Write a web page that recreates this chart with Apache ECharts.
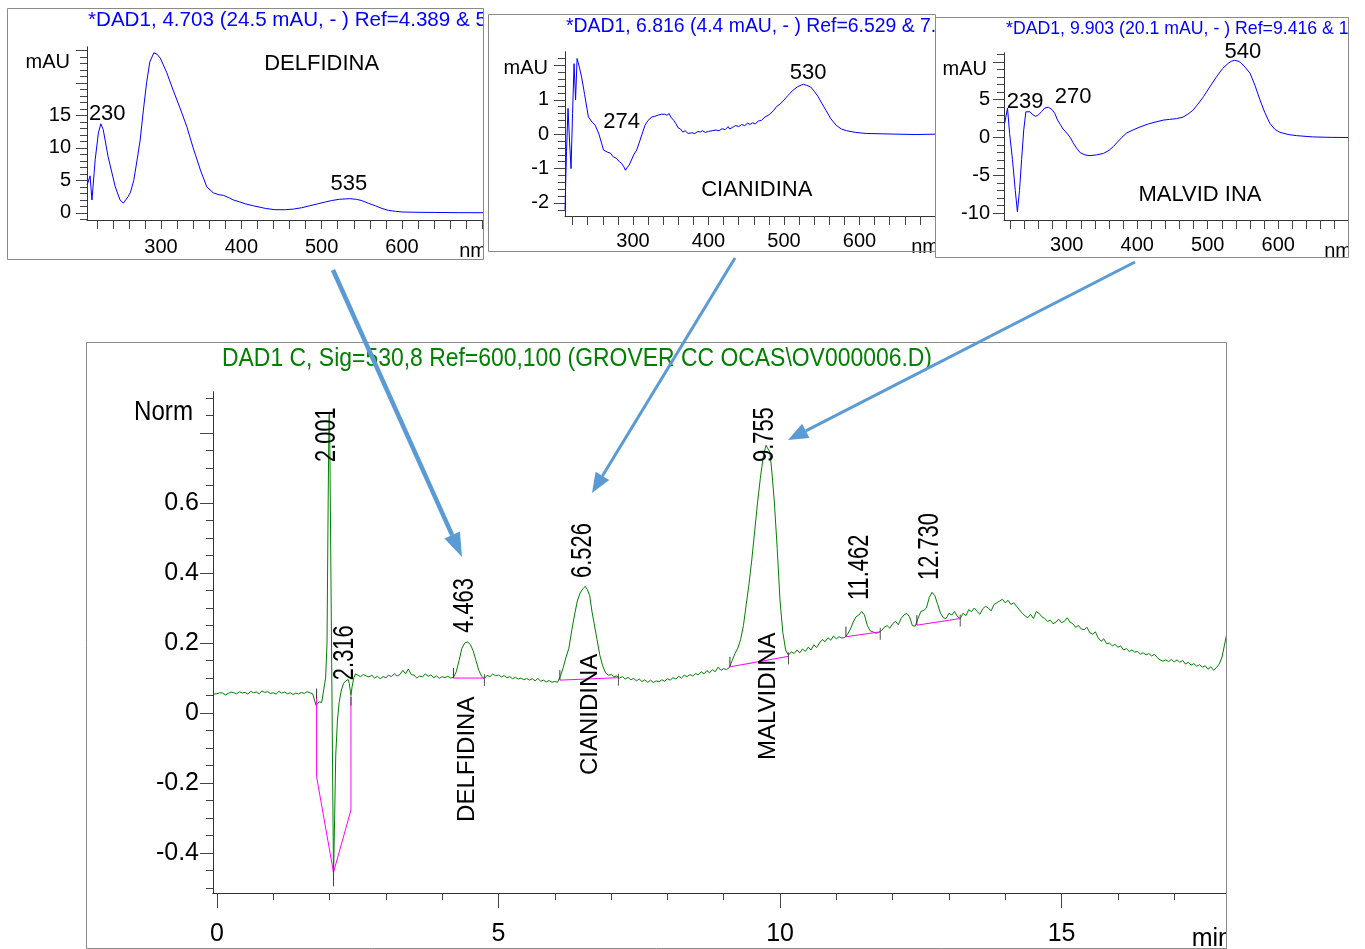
<!DOCTYPE html>
<html><head><meta charset="utf-8">
<script src="https://cdn.jsdelivr.net/npm/echarts@6/dist/echarts.min.js"></script>
<style>html,body{margin:0;padding:0;background:#fff}#c{width:1365px;height:949px}</style>
</head><body><div id="c"></div>
<script>
// ---------------- DATA ----------------
const mainTitle = 'DAD1 C, Sig=530,8 Ref=600,100 (GROVER CC OCAS\\OV000006.D)';

// chromatogram: [time (min), signal (Norm)]
const chromatogram = [
[-0.07,0.054],[0.0,0.055],[0.05,0.058],[0.1,0.057],[0.15,0.052],[0.2,0.056],[0.25,0.060],[0.3,0.058],[0.35,0.055],[0.4,0.061],
[0.45,0.057],[0.5,0.059],[0.55,0.054],[0.6,0.062],[0.65,0.058],[0.7,0.060],[0.75,0.055],[0.8,0.063],[0.85,0.059],[0.9,0.061],
[0.95,0.056],[1.0,0.058],[1.05,0.054],[1.1,0.062],[1.15,0.057],[1.2,0.060],[1.25,0.055],[1.3,0.058],[1.35,0.053],[1.4,0.057],
[1.45,0.055],[1.5,0.059],[1.55,0.056],[1.6,0.061],[1.65,0.058],[1.7,0.055],[1.73,0.050],[1.76,0.022],[1.78,0.018],[1.82,0.032],
[1.86,0.030],[1.89,0.060],[1.93,0.100],[1.955,0.20],[1.975,0.60],[1.99,0.85],[2.0,0.86],[2.07,-0.47],[2.09,-0.30],[2.11,-0.12],
[2.14,-0.02],[2.17,0.03],[2.21,0.066],[2.25,0.085],[2.29,0.092],[2.33,0.096],[2.35,0.085],[2.37,0.062],[2.38,0.050],[2.40,0.075],
[2.43,0.100],[2.46,0.112],[2.5,0.108],[2.55,0.104],[2.6,0.110],[2.65,0.106],[2.7,0.103],[2.75,0.108],[2.8,0.100],[2.85,0.105],
[2.9,0.098],[2.95,0.104],[3.0,0.101],[3.05,0.108],[3.1,0.104],[3.15,0.112],[3.2,0.106],[3.25,0.110],[3.3,0.122],[3.35,0.112],
[3.4,0.126],[3.45,0.110],[3.5,0.108],[3.55,0.100],[3.6,0.106],[3.65,0.103],[3.7,0.112],[3.75,0.105],[3.8,0.109],[3.85,0.101],
[3.9,0.106],[3.95,0.099],[4.0,0.104],[4.05,0.101],[4.1,0.105],[4.15,0.100],[4.2,0.102],[4.25,0.118],[4.3,0.150],[4.35,0.185],
[4.4,0.200],[4.45,0.203],[4.5,0.196],[4.55,0.178],[4.6,0.150],[4.65,0.122],[4.7,0.105],[4.75,0.098],[4.8,0.108],[4.85,0.104],
[4.9,0.112],[4.95,0.106],[5.0,0.109],[5.05,0.103],[5.1,0.107],[5.15,0.101],[5.2,0.104],[5.25,0.098],[5.3,0.102],[5.35,0.097],
[5.4,0.100],[5.45,0.095],[5.5,0.099],[5.55,0.094],[5.6,0.098],[5.65,0.092],[5.7,0.099],[5.75,0.091],[5.8,0.094],[5.85,0.089],
[5.9,0.093],[5.95,0.088],[6.0,0.090],[6.05,0.088],[6.1,0.105],[6.15,0.130],[6.2,0.160],[6.25,0.185],[6.3,0.235],[6.35,0.280],
[6.4,0.320],[6.45,0.343],[6.5,0.355],[6.54,0.362],[6.58,0.352],[6.62,0.335],[6.66,0.290],[6.7,0.255],[6.75,0.210],[6.8,0.165],
[6.85,0.135],[6.9,0.115],[6.95,0.108],[7.0,0.110],[7.05,0.104],[7.1,0.106],[7.15,0.100],[7.2,0.104],[7.25,0.097],[7.3,0.102],
[7.35,0.095],[7.4,0.099],[7.45,0.092],[7.5,0.097],[7.55,0.090],[7.6,0.095],[7.65,0.088],[7.7,0.094],[7.75,0.087],[7.8,0.092],
[7.85,0.089],[7.9,0.095],[7.95,0.091],[8.0,0.098],[8.05,0.094],[8.1,0.101],[8.15,0.097],[8.2,0.105],[8.25,0.100],[8.3,0.108],
[8.35,0.104],[8.4,0.110],[8.45,0.106],[8.5,0.113],[8.55,0.109],[8.6,0.118],[8.65,0.112],[8.7,0.121],[8.75,0.115],[8.8,0.124],
[8.85,0.118],[8.9,0.131],[8.95,0.122],[9.0,0.127],[9.05,0.124],[9.1,0.130],[9.15,0.150],[9.2,0.170],[9.25,0.185],[9.3,0.210],
[9.35,0.250],[9.4,0.310],[9.45,0.370],[9.5,0.440],[9.55,0.520],[9.6,0.600],[9.65,0.670],[9.7,0.730],[9.75,0.765],[9.78,0.768],
[9.82,0.745],[9.86,0.680],[9.9,0.600],[9.95,0.470],[10.0,0.320],[10.05,0.230],[10.1,0.180],[10.15,0.165],[10.2,0.175],[10.25,0.170],
[10.3,0.180],[10.35,0.172],[10.4,0.183],[10.45,0.176],[10.5,0.188],[10.55,0.180],[10.6,0.195],[10.65,0.187],[10.7,0.200],[10.75,0.210],
[10.8,0.204],[10.85,0.215],[10.9,0.208],[10.95,0.220],[11.0,0.212],[11.05,0.218],[11.1,0.214],[11.15,0.216],[11.2,0.225],[11.25,0.240],
[11.3,0.260],[11.35,0.275],[11.4,0.280],[11.45,0.290],[11.5,0.280],[11.55,0.250],[11.6,0.235],[11.65,0.232],[11.7,0.228],[11.75,0.230],
[11.8,0.235],[11.85,0.245],[11.9,0.250],[11.95,0.242],[12.0,0.255],[12.05,0.262],[12.1,0.252],[12.15,0.270],[12.2,0.280],[12.25,0.285],
[12.3,0.275],[12.35,0.250],[12.4,0.248],[12.45,0.270],[12.5,0.290],[12.55,0.293],[12.6,0.300],[12.65,0.330],[12.7,0.345],[12.75,0.335],
[12.8,0.310],[12.85,0.285],[12.9,0.272],[12.95,0.270],[13.0,0.285],[13.05,0.280],[13.1,0.290],[13.15,0.276],[13.2,0.270],[13.25,0.285],
[13.3,0.278],[13.35,0.295],[13.4,0.290],[13.45,0.300],[13.5,0.290],[13.55,0.282],[13.6,0.298],[13.65,0.305],[13.7,0.300],[13.75,0.292],
[13.8,0.310],[13.85,0.315],[13.9,0.320],[13.95,0.325],[14.0,0.315],[14.05,0.322],[14.1,0.310],[14.15,0.315],[14.2,0.305],[14.25,0.295],
[14.3,0.285],[14.35,0.278],[14.4,0.272],[14.45,0.282],[14.5,0.270],[14.55,0.290],[14.6,0.285],[14.65,0.275],[14.7,0.270],[14.75,0.262],
[14.8,0.265],[14.85,0.255],[14.9,0.260],[14.95,0.268],[15.0,0.258],[15.05,0.262],[15.1,0.272],[15.15,0.260],[15.2,0.255],[15.25,0.245],
[15.3,0.250],[15.35,0.240],[15.4,0.238],[15.45,0.245],[15.5,0.230],[15.55,0.225],[15.6,0.232],[15.65,0.215],[15.7,0.205],[15.75,0.212],
[15.8,0.198],[15.85,0.200],[15.9,0.192],[15.95,0.196],[16.0,0.188],[16.05,0.192],[16.1,0.180],[16.15,0.184],[16.2,0.176],[16.25,0.180],
[16.3,0.174],[16.35,0.176],[16.4,0.168],[16.45,0.172],[16.5,0.166],[16.55,0.170],[16.6,0.163],[16.65,0.168],[16.7,0.158],[16.75,0.152],
[16.8,0.148],[16.85,0.152],[16.9,0.147],[16.95,0.153],[17.0,0.146],[17.05,0.152],[17.1,0.145],[17.15,0.150],[17.2,0.140],[17.25,0.145],
[17.3,0.137],[17.35,0.141],[17.4,0.134],[17.45,0.138],[17.5,0.131],[17.55,0.135],[17.6,0.125],[17.65,0.132],[17.7,0.122],[17.75,0.130],
[17.8,0.140],[17.85,0.160],[17.9,0.200],[17.95,0.240]
];

// integration baselines (magenta)
const baselineFirst = [[1.77,0.047],[1.77,-0.182],[2.07,-0.455],[2.38,-0.277],[2.38,0.047]];
const baselineDelfidina = [[4.20,0.100],[4.75,0.100]];
const baselineCianidina = [[6.09,0.094],[7.13,0.101]];
const baselineMalvidina = [[9.11,0.132],[10.15,0.162]];
const baseline11462 = [[11.17,0.218],[11.78,0.232]];
const baseline12730 = [[12.43,0.251],[13.20,0.270]];

// peak retention-time labels: [text, time, signal at label start]
const peakLabels = [
 ['2.001',1.95,0.717],['2.316',2.27,0.094],['4.463',4.40,0.229],['6.526',6.50,0.386],
 ['9.755',9.72,0.717],['11.462',11.42,0.323],['12.730',12.66,0.380]
];
const compoundLabels = [['DELFIDINA',4.44,-0.311],['CIANIDINA',6.63,-0.177],['MALVIDINA',9.79,-0.134]];

// main axis ticks / labels
const mainXMinorTicks = [0,1,2,3,4,5,6,7,8,9,10,11,12,13,14,15,16,17];
const mainXMajorTicks = [0,5,10,15];
const mainYMinorTicks = [-0.5,-0.45,-0.4,-0.35,-0.3,-0.25,-0.2,-0.15,-0.1,-0.05,0,0.05,0.1,0.15,0.2,0.25,0.3,0.35,0.4,0.45,0.5,0.55,0.6,0.65,0.7,0.75,0.8,0.85,0.9];
const mainYMajorTicks = [-0.4,-0.2,0,0.2,0.4,0.6,0.8];
const mainYLabels = [-0.4,-0.2,0,0.2,0.4,0.6];

// UV-Vis spectra: [nm, mAU]
const delfidinaSpectrum = [
[208,4.3],[211.6,5.7],[214,2.0],[218,8.2],[222,12.3],[225,13.7],[228,12.8],[234,8.7],[243,4.0],[249,2.0],[253,1.5],[259,2.5],
[262,3.2],[266,5.0],[270,8.0],[274,11.2],[278,15.8],[282,20.0],[286,23.2],[291,24.6],[295,24.4],[299,23.8],[307,21.6],[315,18.9],
[324,16.0],[332,13.3],[340,10.0],[349,6.6],[357,4.0],[365,3.1],[372,2.8],[378,2.7],[385,2.3],[390,2.0],[398,1.7],[405,1.4],
[415,1.1],[430,0.7],[442,0.5],[455,0.5],[465,0.6],[475,0.8],[485,1.1],[495,1.4],[505,1.7],[512,1.9],[522,2.1],[535,2.2],
[543,2.1],[550,1.9],[558,1.5],[567,1.1],[575,0.7],[583,0.4],[592,0.25],[600,0.15],[620,0.1],[640,0.08],[670,0.05],[701,0.04]
];
const cianidinaSpectrum = [
[210,-2.2],[212,-0.5],[214,0.75],[216,-0.2],[218,-1.0],[220,0.6],[222,2.05],[224,1.0],[226,2.2],[229,1.95],[232,1.66],[236,1.15],
[241,0.5],[246,0.35],[250,0.26],[255,0.0],[261,-0.46],[266,-0.52],[270,-0.55],[274,-0.66],[278,-0.70],[282,-0.80],[285,-0.85],
[288,-0.95],[290,-1.05],[292,-0.98],[295,-0.90],[298,-0.75],[301,-0.60],[305,-0.46],[309,-0.20],[312,0.0],[316,0.26],[320,0.40],
[325,0.50],[329,0.52],[334,0.56],[338,0.58],[342,0.58],[345,0.55],[348,0.60],[350,0.50],[352,0.52],[354,0.40],[357,0.30],[360,0.18],
[363,0.15],[366,0.06],[369,0.10],[373,0.02],[378,0.04],[382,0.02],[386,0.08],[389,0.06],[392,0.10],[396,0.05],[400,0.08],[405,0.10],
[410,0.12],[414,0.10],[418,0.16],[422,0.13],[426,0.22],[428,0.15],[432,0.20],[436,0.25],[440,0.22],[444,0.28],[448,0.25],[452,0.32],
[455,0.28],[458,0.33],[462,0.30],[466,0.38],[470,0.40],[475,0.50],[480,0.56],[486,0.68],[490,0.80],[495,0.88],[499,0.97],[505,1.12],
[512,1.28],[518,1.38],[523,1.43],[526,1.45],[530,1.42],[535,1.38],[540,1.25],[545,1.10],[550,0.90],[556,0.68],[562,0.45],[569,0.26],
[576,0.15],[583,0.10],[595,0.05],[609,0.02],[630,0.01],[650,0.0],[675,-0.01],[700,0.0]
];
const malvidinaSpectrum = [
[212,1.9],[216,3.9],[219,0.5],[223,-2.9],[227,-7.0],[230,-9.8],[233,-7.0],[236,-2.9],[239,1.0],[242,3.4],[248,3.4],[252,3.0],
[256,2.8],[260,3.0],[264,3.4],[269,3.9],[274,4.0],[279,3.7],[283,3.2],[287,2.3],[291,1.7],[295,1.1],[300,0.6],[305,0.0],[309,-0.7],
[314,-1.4],[319,-2.0],[326,-2.3],[333,-2.4],[342,-2.3],[352,-2.1],[360,-1.7],[366,-1.2],[371,-0.7],[378,0.0],[385,0.6],[394,1.0],
[404,1.4],[416,1.8],[428,2.1],[437,2.3],[446,2.4],[456,2.5],[465,2.7],[472,3.1],[479,3.6],[486,4.4],[494,5.4],[503,6.7],[513,8.1],
[521,9.1],[529,9.8],[534,10.1],[538,10.2],[543,10.1],[547,9.9],[553,9.3],[560,8.5],[567,6.9],[574,5.0],[581,3.3],[588,1.9],[595,1.1],
[602,0.7],[614,0.4],[626,0.25],[649,0.08],[675,0.02],[699,0.0]
];

const insetTitles = ['*DAD1, 4.703 (24.5 mAU, - ) Ref=4.389 & 5', '*DAD1, 6.816 (4.4 mAU, - ) Ref=6.529 & 7.', '*DAD1, 9.903 (20.1 mAU, - ) Ref=9.416 & 1'];
const nmTicks = [220,240,260,280,300,320,340,360,380,400,420,440,460,480,500,520,540,560,580,600,620,640,660,680,700];
const nmLabels = [300,400,500,600];
const in1YMinor = [-1,0,1,2,3,4,5,6,7,8,9,10,11,12,13,14,15,16,17,18,19,20,21,22,23,24,25];
const in1YMajor = [0,5,10,15,20,25];
const in1YLabels = [0,5,10,15];
const in2YMinor = [-2.2,-2,-1.8,-1.6,-1.4,-1.2,-1,-0.8,-0.6,-0.4,-0.2,0,0.2,0.4,0.6,0.8,1,1.2,1.4,1.6,1.8,2,2.2];
const in2YMajor = [-2,-1,0,1,2];
const in2YLabels = [-2,-1,0,1];
const in3YMinor = [-10,-9,-8,-7,-6,-5,-4,-3,-2,-1,0,1,2,3,4,5,6,7,8,9,10,11];
const in3YMajor = [-10,-5,0,5,10];
const in3YLabels = [-10,-5,0,5];
// inset annotations: [text, nm, mAU]
const in1Notes = [['230',233,15.2],['535',534,4.5],['DELFIDINA',500,22.9]];
const in2Notes = [['530',532,1.77],['274',285,0.35],['CIANIDINA',464,-1.62]];
const in3Notes = [['540',550,11.3],['239',241,4.7],['270',309,5.4],['MALVID INA',489,-7.6]];

// ---------------- LAYOUT ----------------
const FONT = "'Liberation Sans', Arial, Helvetica, sans-serif";
const AX = '#333', TK = '#444';
const fmt = v => { const r = Math.round(v*100)/100; return String(r); };

function vAxis(grid, min, max, ticks, len, labels, fs, margin, pos) {
  return {
    type:'value', gridIndex:grid, min, max, position:pos,
    axisLine:{show:true, onZero:false, lineStyle:{color:AX,width:1}},
    axisTick:{show:true, inside:false, length:len, customValues:ticks, lineStyle:{color:TK,width:1}},
    axisLabel: labels ? {show:true, customValues:labels, fontSize:fs, fontFamily:FONT, color:'#000', margin, formatter:fmt} : {show:false},
    splitLine:{show:false}, splitArea:{show:false}
  };
}

const grids = [
  {left:213, top:392, right:1365-1226, bottom:949-893},
  {left:87, top:47, right:1365-483, bottom:949-220},
  {left:565, top:52, right:1365-935, bottom:949-216},
  {left:1004, top:53, right:1365-1348, bottom:949-220}
];

const xAxes = [
  vAxis(0,-0.07,17.92,mainXMinorTicks,7,null,0,0,'bottom'),
  vAxis(0,-0.07,17.92,mainXMajorTicks,15,mainXMajorTicks,25,29,'bottom'),
  vAxis(1,207.8,700.9,nmTicks,9,nmLabels,20,17,'bottom'),
  vAxis(2,210,700,nmTicks,9,nmLabels,20,15,'bottom'),
  vAxis(3,211,699,nmTicks,9,nmLabels,20,15,'bottom')
];
const yAxes = [
  vAxis(0,-0.514,0.917,mainYMinorTicks,7,null,0,0,'left'),
  vAxis(0,-0.514,0.917,mainYMajorTicks,13,mainYLabels,25,14,'left'),
  vAxis(1,-1.08,25.5,in1YMinor,7,null,0,0,'left'),
  vAxis(1,-1.08,25.5,in1YMajor,11,in1YLabels,20,16,'left'),
  vAxis(2,-2.38,2.39,in2YMinor,7,null,0,0,'left'),
  vAxis(2,-2.38,2.39,in2YMajor,11,in2YLabels,20,16,'left'),
  vAxis(3,-10.9,11.17,in3YMinor,7,null,0,0,'left'),
  vAxis(3,-10.9,11.17,in3YMajor,11,in3YLabels,20,14,'left')
];

function lineSeries(data, xi, yi, color, w) {
  return {type:'line', data, xAxisIndex:xi, yAxisIndex:yi, showSymbol:false, symbol:'none',
    lineStyle:{color, width:w||1}, itemStyle:{color}, animation:false, silent:true, clip:true};
}

const series = [
  lineSeries(chromatogram,1,1,'#008000',1),
  lineSeries(baselineFirst,1,1,'#FF00FF',1),
  lineSeries(baselineDelfidina,1,1,'#FF00FF',1),
  lineSeries(baselineCianidina,1,1,'#FF00FF',1),
  lineSeries(baselineMalvidina,1,1,'#FF00FF',1),
  lineSeries(baseline11462,1,1,'#FF00FF',1),
  lineSeries(baseline12730,1,1,'#FF00FF',1),
  lineSeries(delfidinaSpectrum,2,3,'#0000FF',1),
  lineSeries(cianidinaSpectrum,3,5,'#0000FF',1),
  lineSeries(malvidinaSpectrum,4,7,'#0000FF',1)
];
series[0].z = 3;

const chart = echarts.init(document.getElementById('c'), null, {renderer:'canvas'});
chart.setOption({backgroundColor:'#fff', animation:false, grid:grids, xAxis:xAxes, yAxis:yAxes, series});

// ---------------- ANNOTATIONS ----------------
const P = (xi, yi, p) => chart.convertToPixel({xAxisIndex:xi, yAxisIndex:yi}, p);
const cv = document.createElement('canvas').getContext('2d');
function fitScale(text, size, target) { cv.font = size + 'px ' + FONT; return target / cv.measureText(text).width; }

const G = [];
const rect = (x1,y1,x2,y2,style,z) => ({type:'rect', shape:{x:x1,y:y1,width:x2-x1,height:y2-y1}, style, z, silent:true});
// boxes: fill below everything, stroke above masks
const boxes = [[7,8,483,259],[488,14,935,251],[935,17,1348,257],[86,342,1226,948]];
boxes.forEach(b => {
  G.push(rect(b[0]+0.5,b[1]+0.5,b[2]+0.5,b[3]+0.5,{fill:'#fff'},-5));
  G.push(rect(b[0]+0.5,b[1]+0.5,b[2]+0.5,b[3]+0.5,{fill:null,stroke:'#8a8a8a',lineWidth:1},60));
});
// masks for text running past the inset frames
const W = {fill:'#fff'};
G.push(rect(484,9,560,36,W,50));      // inset1 title overflow
G.push(rect(484,225,488,262,W,50));   // inset1 "nm" overflow
G.push(rect(440,259.5,490,270,W,50)); // inset1 "nm" below frame
G.push(rect(936,15,1003,42,W,50));    // inset2 title overflow
G.push(rect(936,228,1003,256,W,50));  // inset2 "nm" overflow
G.push(rect(1349,0,1365,275,W,50));   // inset3 overflow
G.push(rect(1227,870,1365,949,W,50)); // "min" overflow

function txt(text, x, y, o) {
  o = o || {};
  return {type:'text', x, y, rotation:o.rot||0, scaleX:o.sx||1, z:o.z||20, silent:true,
    style:{text, fill:o.color||'#000', fontSize:o.fs||20, fontFamily:FONT, align:o.align||'center', verticalAlign:'middle'}};
}

// main title
const tScale = fitScale(mainTitle, 25, 710);
G.push(txt(mainTitle, 222, 359, {fs:25, align:'left', color:'#008000', sx:tScale}));
// Norm / min
const pNorm = P(1,1,[-0.07,0.86]);
G.push(txt('Norm', pNorm[0]-20, pNorm[1]+1, {fs:27, align:'right', sx:fitScale('Norm',27,59)}));
const pMin = P(1,1,[17.92,-0.514]);
G.push(txt('min', pMin[0]+6, pMin[1]+46, {fs:25, align:'right'}));

// peak labels (rotated, condensed)
peakLabels.forEach(l => { const p = P(1,1,[l[1],l[2]]); G.push(txt(l[0], p[0], p[1], {fs:30, align:'left', rot:Math.PI/2, sx:0.73})); });
compoundLabels.forEach(l => { const p = P(1,1,[l[1],l[2]]); G.push(txt(l[0], p[0], p[1], {fs:24, align:'left', rot:Math.PI/2})); });

// integration tick marks
const seg = (x1,y1,x2,y2,c) => ({type:'line', shape:{x1,y1,x2,y2}, style:{stroke:c||'#333',lineWidth:1}, z:25, silent:true});
function iticks(bl) {
  const a = P(1,1,bl[0]), b = P(1,1,bl[bl.length-1]);
  G.push(seg(a[0],a[1]-10,a[0],a[1]));
  G.push(seg(b[0],b[1]-4,b[0],b[1]+8,'#555'));
}
[baselineDelfidina,baselineCianidina,baselineMalvidina,baseline11462,baseline12730].forEach(iticks);
{ const a = P(1,1,baselineFirst[0]), m = P(1,1,baselineFirst[2]), e = P(1,1,baselineFirst[4]);
  G.push(seg(a[0],a[1]-8,a[0],a[1]+2));
  G.push(seg(m[0],m[1]-3,m[0],m[1]+14,'#444'));
  G.push(seg(e[0],e[1],e[0],e[1]+9,'#444')); }

// insets
const insets = [
  {xi:2, yi:3, title:insetTitles[0], tx:88, ty:20, tfs:20.6, notes:in1Notes, mau:23.1},
  {xi:3, yi:5, title:insetTitles[1], tx:566, ty:27, tfs:19.4, notes:in2Notes, mau:1.91},
  {xi:4, yi:7, title:insetTitles[2], tx:1006, ty:29, tfs:17.7, notes:in3Notes, mau:8.95}
];
insets.forEach(ins => {
  G.push(txt(ins.title, ins.tx, ins.ty, {fs:ins.tfs, align:'left', color:'#0000FF'}));
  ins.notes.forEach(n => { const p = P(ins.xi, ins.yi, [n[1], n[2]]); G.push(txt(n[0], p[0], p[1], {fs:22})); });
  const xmin = xAxes[ins.xi].min, xmax = xAxes[ins.xi].max, ymin = yAxes[ins.yi].min;
  const pm = P(ins.xi, ins.yi, [xmin, ins.mau]);
  G.push(txt('mAU', pm[0]-17, pm[1], {fs:20, align:'right'}));
  const pn = P(ins.xi, ins.yi, [xmax, ymin]);
  G.push(txt('nm', pn[0]+4, pn[1]+31, {fs:20, align:'right'}));
});

// arrows
function arrow(x1,y1,x2,y2,w,hl,hw,color){
  const dx=x2-x1, dy=y2-y1, L=Math.hypot(dx,dy), ux=dx/L, uy=dy/L;
  const bx=x2-ux*hl, by=y2-uy*hl, nx=-uy, ny=ux;
  G.push({type:'line', shape:{x1,y1,x2:bx,y2:by}, style:{stroke:color,lineWidth:w,lineCap:'butt'}, z:200, silent:true});
  G.push({type:'polygon', shape:{points:[[x2,y2],[bx+nx*hw/2,by+ny*hw/2],[bx-nx*hw/2,by-ny*hw/2]]}, style:{fill:color}, z:200, silent:true});
}
const ARC = '#5B9BD5';
arrow(333,270,462,557,4.5,24,17,ARC);
arrow(735,258,592,493,3,20,16,ARC);
arrow(1135,262,788,440,3,20,16,ARC);

chart.setOption({graphic:{elements:G}});
</script></body></html>
